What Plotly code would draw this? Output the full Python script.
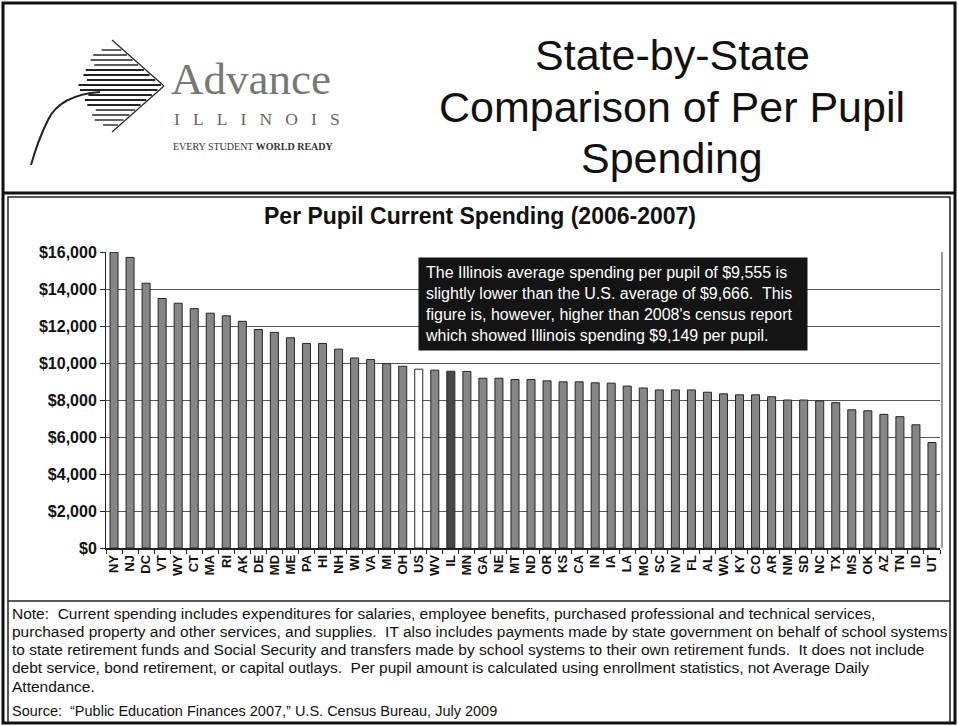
import plotly.graph_objects as go

# ---------------- data ----------------
states = ["NY", "NJ", "DC", "VT", "WY", "CT", "MA", "RI", "AK", "DE", "MD", "ME", "PA", "HI",
          "NH", "WI", "VA", "MI", "OH", "US", "WV", "IL", "MN", "GA", "NE", "MT", "ND", "OR",
          "KS", "CA", "IN", "IA", "LA", "MO", "SC", "NV", "FL", "AL", "WA", "KY", "CO", "AR",
          "NM", "SD", "NC", "TX", "MS", "OK", "AZ", "TN", "ID", "UT"]
spending = [15981, 15708, 14313, 13488, 13229, 12937, 12694, 12551, 12253, 11810, 11656, 11364,
            11056, 11056, 10749, 10272, 10185, 9964, 9826, 9666, 9614, 9555, 9544, 9175, 9175,
            9105, 9105, 9035, 8982, 8982, 8930, 8912, 8753, 8649, 8544, 8544, 8544, 8421, 8333,
            8281, 8281, 8175, 8000, 8000, 7950, 7860, 7470, 7420, 7225, 7100, 6660, 5700]
y_ticks = [0, 2000, 4000, 6000, 8000, 10000, 12000, 14000, 16000]

W, H = 958, 726
L, R, T, B = 106, 940, 252, 548  # plot area in pixels


def px(x):
    return (x - L) / (R - L)


def py(y):
    return (B - y) / (B - T)


colors = []
for s in states:
    if s == "US":
        colors.append("#ffffff")
    elif s == "IL":
        colors.append("#474747")
    else:
        colors.append("#868686")

fig = go.Figure()
fig.add_trace(go.Bar(
    x=states, y=spending,
    marker=dict(color=colors, line=dict(color="#262626", width=1)),
    width=0.5, hoverinfo="x+y"))

FONT = "Arial, Liberation Sans, sans-serif"
SERIF = "Liberation Serif, Times New Roman, serif"

fig.update_layout(
    width=W, height=H,
    margin=dict(l=L, r=W - R, t=T, b=H - B),
    paper_bgcolor="white", plot_bgcolor="white",
    showlegend=False,
    font=dict(family=FONT, color="#111"),
    xaxis=dict(type="category", tickangle=-90,
               tickfont=dict(size=13, color="#111", family=FONT, weight="bold"),
               showline=True, linecolor="#222", linewidth=1.5, ticks="outside",
               ticklen=4, tickcolor="#222", tickson="boundaries", showgrid=False,
               range=[-0.5, len(states) - 0.5]),
    yaxis=dict(range=[0, 16000], tickvals=y_ticks, tickformat="$,.0f",
               tickfont=dict(size=16, color="#111", family=FONT, weight="bold"),
               showline=True, linecolor="#222", linewidth=1, ticks="outside", ticklen=5,
               tickcolor="#222", showgrid=True, gridcolor="#555", gridwidth=1, zeroline=False),
    bargap=0.5,
)

shapes = []
# outer frame
shapes.append(dict(type="rect", xref="paper", yref="paper", x0=px(3), x1=px(955), y0=py(723), y1=py(3),
                   line=dict(color="#111", width=3)))
# header separator
shapes.append(dict(type="line", xref="paper", yref="paper", x0=px(3), x1=px(955), y0=py(193), y1=py(193),
                   line=dict(color="#111", width=3)))
# chart box
shapes.append(dict(type="rect", xref="paper", yref="paper", x0=px(8), x1=px(950), y0=py(601), y1=py(197),
                   line=dict(color="#222", width=1.5)))
# note box sides
shapes.append(dict(type="line", xref="paper", yref="paper", x0=px(8), x1=px(8), y0=py(723), y1=py(601),
                   line=dict(color="#222", width=1.5)))
shapes.append(dict(type="line", xref="paper", yref="paper", x0=px(950), x1=px(950), y0=py(723), y1=py(601),
                   line=dict(color="#222", width=1.5)))
# right edge of plot frame
shapes.append(dict(type="line", xref="paper", yref="paper", x0=px(942), x1=px(942), y0=py(548), y1=py(252),
                   line=dict(color="#333", width=1)))

# logo chevron
tip = (164, 86)
top = (112, 40)
bot = (112, 132)
shapes.append(dict(type="line", xref="paper", yref="paper", x0=px(top[0]), y0=py(top[1]),
                   x1=px(tip[0]), y1=py(tip[1]), line=dict(color="#222", width=1.2)))
shapes.append(dict(type="line", xref="paper", yref="paper", x0=px(bot[0]), y0=py(bot[1]),
                   x1=px(tip[0]), y1=py(tip[1]), line=dict(color="#222", width=1.2)))
for i, yy in enumerate(range(50, 128, 5)):
    if yy <= tip[1]:
        xr = top[0] + (tip[0] - top[0]) * (yy - top[1]) / (tip[1] - top[1])
    else:
        xr = bot[0] + (tip[0] - bot[0]) * (bot[1] - yy) / (bot[1] - tip[1])
    xl = 100 - 22 * (1 - abs(yy - 86) / 45) + (6 if i % 3 == 0 else 0)
    w = 2.2 if 68 < yy < 108 else 1.4
    shapes.append(dict(type="line", xref="paper", yref="paper", x0=px(xl), y0=py(yy),
                       x1=px(xr - 2), y1=py(yy), line=dict(color="#222", width=w)))
# tail curve
shapes.append(dict(type="path", xref="paper", yref="paper",
                   path="M {},{} Q {},{} {},{} Q {},{} {},{}".format(
                       px(100), py(92), px(60), py(95), px(48), py(120),
                       px(38), py(140), px(31), py(165)),
                   line=dict(color="#222", width=2)))

annotations = []
# header title
for txt, yy in [("State-by-State", 55), ("Comparison of Per Pupil", 107), ("Spending", 158)]:
    annotations.append(dict(text=txt, xref="paper", yref="paper", x=px(672), y=py(yy),
                            xanchor="center", yanchor="middle", showarrow=False,
                            font=dict(size=43, color="#111", family=FONT)))
# logo text
annotations.append(dict(text="Advance", xref="paper", yref="paper", x=px(169), y=py(79),
                        xanchor="left", yanchor="middle", showarrow=False,
                        font=dict(size=45, color="#777", family=SERIF)))
annotations.append(dict(text="\u00a0\u00a0\u00a0".join("ILLINOIS"), xref="paper", yref="paper",
                        x=px(172), y=py(119), xanchor="left", yanchor="middle", showarrow=False,
                        font=dict(size=17.5, color="#666", family=SERIF)))
annotations.append(dict(text="EVERY STUDENT <b>WORLD READY</b>", xref="paper", yref="paper", x=px(171), y=py(147),
                        xanchor="left", yanchor="middle", showarrow=False,
                        font=dict(size=10, color="#333", family=SERIF)))
# chart title
annotations.append(dict(text="<b>Per Pupil Current Spending (2006-2007)</b>", xref="paper", yref="paper",
                        x=px(480), y=py(216), xanchor="center", yanchor="middle", showarrow=False,
                        font=dict(size=23, color="#111", family=FONT)))
# callout box
annotations.append(dict(
    text="The Illinois average spending per pupil of $9,555 is<br>"
         "slightly lower than the U.S. average of $9,666.  This<br>"
         "figure is, however, higher than 2008's census report<br>"
         "which showed Illinois spending $9,149 per pupil.",
    xref="paper", yref="paper", x=px(418), y=py(257), xanchor="left", yanchor="top",
    showarrow=False, align="left", valign="middle", bgcolor="#141414", borderpad=6,
    width=376, height=80,
    font=dict(size=16, color="white", family=FONT)))
# notes
note_lines = [
    "Note:  Current spending includes expenditures for salaries, employee benefits, purchased professional and technical services,",
    "purchased property and other services, and supplies.  IT also includes payments made by state government on behalf of school systems",
    "to state retirement funds and Social Security and transfers made by school systems to their own retirement funds.  It does not include",
    "debt service, bond retirement, or capital outlays.  Per pupil amount is calculated using enrollment statistics, not Average Daily",
    "Attendance.",
]
for i, line in enumerate(note_lines):
    annotations.append(dict(text=line, xref="paper", yref="paper", x=px(10), y=py(613 + 18.3 * i),
                            xanchor="left", yanchor="middle", showarrow=False,
                            font=dict(size=15.5, color="#111", family=FONT)))
annotations.append(dict(text="Source:  \u201cPublic Education Finances 2007,\u201d U.S. Census Bureau, July 2009",
                        xref="paper", yref="paper", x=px(10), y=py(711),
                        xanchor="left", yanchor="middle", showarrow=False,
                        font=dict(size=14.5, color="#111", family=FONT)))

fig.update_layout(shapes=shapes, annotations=annotations)
fig.write_html("out.html")
